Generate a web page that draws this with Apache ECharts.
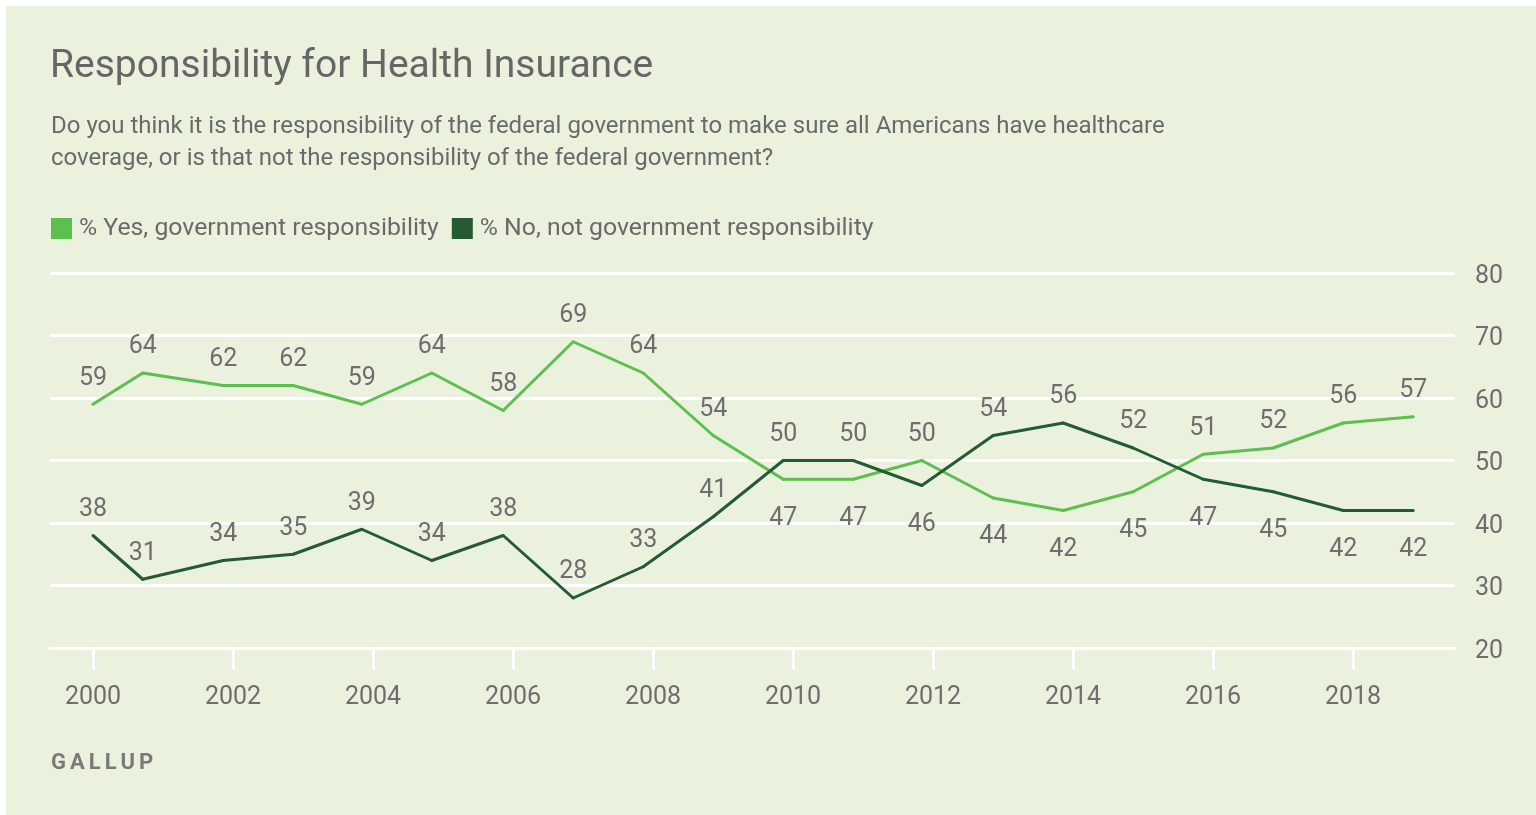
<!DOCTYPE html>
<html>
<head>
<meta charset="utf-8">
<script src="https://cdn.jsdelivr.net/npm/echarts@6/dist/echarts.min.js"></script>
<style>
html,body{margin:0;padding:0;background:#ffffff;}
#wrap{position:absolute;left:6px;top:6px;width:1530px;height:809px;background:#eaf2dd;}
#chart{position:absolute;left:-6px;top:-6px;width:1536px;height:815px;}
</style>
</head>
<body>
<div id="wrap"><div id="chart"></div></div>
<script>
// ---- data ----
const titleText = 'Responsibility for Health Insurance';
const subtitleText = 'Do you think it is the responsibility of the federal government to make sure all Americans have healthcare\ncoverage, or is that not the responsibility of the federal government?';
const seriesNames = ['% Yes, government responsibility', '% No, not government responsibility'];
const pollDates = [2000, 2000.71, 2001.86, 2002.86, 2003.84, 2004.84, 2005.86, 2006.86, 2007.86, 2008.86,
                   2009.86, 2010.86, 2011.84, 2012.86, 2013.86, 2014.86, 2015.86, 2016.86, 2017.86, 2018.86];
const yesValues = [59, 64, 62, 62, 59, 64, 58, 69, 64, 54, 47, 47, 50, 44, 42, 45, 51, 52, 56, 57];
const noValues  = [38, 31, 34, 35, 39, 34, 38, 28, 33, 41, 50, 50, 46, 54, 56, 52, 47, 45, 42, 42];
const xTickYears = [2000, 2002, 2004, 2006, 2008, 2010, 2012, 2014, 2016, 2018];
const yTicks = [20, 30, 40, 50, 60, 70, 80];
const sourceText = 'GALLUP';

// ---- styles ----
const FONT = 'Roboto';
const GRAY = '#6e6e6e';
const YES_COLOR = '#5cbf4f';
const NO_COLOR = '#255b34';
const NO_LABEL_ABOVE_BEFORE = 2009; // early "No" labels sit above the line

function labelFor(pos) {
  return {
    show: true, position: pos, distance: pos === 'top' ? 12 : 25,
    color: GRAY, fontFamily: FONT, fontSize: 25
  };
}
const yesData = pollDates.map((x, i) => ({
  value: [x, yesValues[i]],
  label: labelFor(yesValues[i] > noValues[i] ? 'top' : 'bottom')
}));
const noData = pollDates.map((x, i) => ({
  value: [x, noValues[i]],
  label: labelFor((noValues[i] > yesValues[i] || x < NO_LABEL_ABOVE_BEFORE) ? 'top' : 'bottom')
}));

// letter-spaced source text as rich tokens
const letters = sourceText.split('');
const sourceRich = letters.map((c, i) => '{' + (i < letters.length - 1 ? 's' : 'e') + '|' + c + '}').join('');

const chart = echarts.init(document.getElementById('chart'), null, {renderer: 'canvas'});
chart.setOption({
  backgroundColor: 'transparent',
  animation: false,
  textStyle: {fontFamily: FONT},
  title: [
    {text: titleText, left: 50, top: 48, padding: 0,
     textStyle: {fontFamily: FONT, fontSize: 39, fontWeight: 'normal', color: '#666666'}},
    {text: subtitleText, left: 51, top: 111, padding: 0,
     textStyle: {fontFamily: FONT, fontSize: 24, fontWeight: 'normal', color: '#6a6a6a', lineHeight: 32}},
    {text: sourceRich, left: 51, top: 752, padding: 0,
     textStyle: {fontFamily: FONT, fontSize: 22, fontWeight: 'bold', color: '#7a7a7a',
       rich: {
         s: {fontFamily: FONT, fontSize: 22, fontWeight: 'bold', color: '#7a7a7a', padding: [0, 4, 0, 0]},
         e: {fontFamily: FONT, fontSize: 22, fontWeight: 'bold', color: '#7a7a7a'}
       }}}
  ],
  legend: {
    left: 51, top: 216, padding: 0, itemWidth: 21, itemHeight: 21, itemGap: 13,
    icon: 'rect',
    textStyle: {fontFamily: FONT, fontSize: 24.8, color: '#6a6a6a', padding: [0, 0, 0, 2]},
    data: seriesNames
  },
  grid: {left: 50, right: 81, top: 273, bottom: 167, containLabel: false},
  xAxis: {
    type: 'value', min: 1999.386, max: 2019.457,
    splitLine: {show: false},
    axisLine: {show: true, lineStyle: {color: '#ffffff', width: 3}},
    axisTick: {show: true, customValues: xTickYears, length: 22, lineStyle: {color: '#ffffff', width: 3}},
    axisLabel: {customValues: xTickYears, margin: 37, color: GRAY, fontFamily: FONT, fontSize: 25,
                formatter: v => String(v)}
  },
  yAxis: {
    type: 'value', position: 'right', min: 20, max: 80, interval: 10,
    axisLine: {show: false}, axisTick: {show: false},
    splitLine: {show: true, lineStyle: {color: '#ffffff', width: 3}},
    axisLabel: {margin: 20, color: GRAY, fontFamily: FONT, fontSize: 25,
                formatter: v => '{v|' + v + '}',
                rich: {v: {color: GRAY, fontFamily: FONT, fontSize: 25, padding: [7, 0, 0, 0]}}}
  },
  series: [
    {name: seriesNames[0], type: 'line', data: yesData, symbol: 'circle', symbolSize: 3, showSymbol: true,
     lineStyle: {color: YES_COLOR, width: 3}, itemStyle: {color: YES_COLOR}, z: 3},
    {name: seriesNames[1], type: 'line', data: noData, symbol: 'circle', symbolSize: 3, showSymbol: true,
     lineStyle: {color: NO_COLOR, width: 3}, itemStyle: {color: NO_COLOR}, z: 4}
  ]
});
</script>
</body>
</html>
